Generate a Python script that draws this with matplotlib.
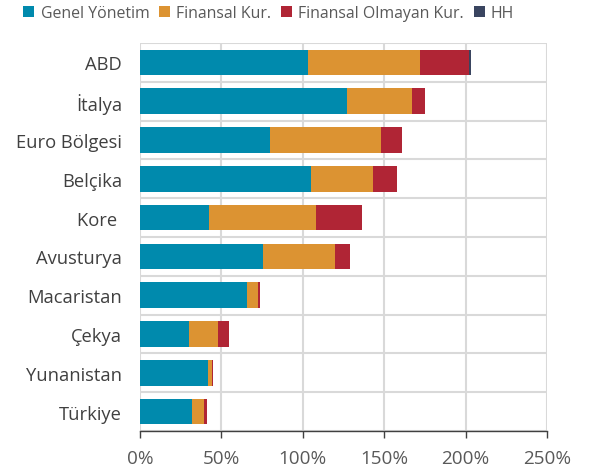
import matplotlib.pyplot as plt
import numpy as np
from matplotlib.ticker import FuncFormatter, MultipleLocator

plt.rcParams["font.family"] = ["Open Sans", "DejaVu Sans"]

countries = ["ABD", "İtalya", "Euro Bölgesi", "Belçika", "Kore ", "Avusturya",
             "Macaristan", "Çekya", "Yunanistan", "Türkiye"]
genel = [103.4, 127.0, 80.0, 105.0, 42.6, 75.8, 65.9, 30.1, 41.8, 32.1]
finansal = [68.6, 40.0, 68.0, 38.3, 65.3, 43.8, 6.8, 17.6, 2.6, 7.2]
finansal_olmayan = [30.0, 8.0, 13.0, 14.4, 28.3, 9.6, 1.2, 7.2, 0.6, 2.0]
hh = [1.5, 0, 0, 0, 0, 0, 0, 0, 0, 0]

series = [
    ("Genel Yönetim", genel, "#008aad"),
    ("Finansal Kur.", finansal, "#dc9332"),
    ("Finansal Olmayan Kur.", finansal_olmayan, "#b02535"),
    ("HH", hh, "#3a4560"),
]

fig = plt.figure(figsize=(5.94, 4.77), dpi=100)
ax = fig.add_axes([140 / 594, 45 / 477, 407 / 594, 388 / 477])

y = np.arange(len(countries))
left = np.zeros(len(countries))
for name, vals, color in series:
    ax.barh(y, vals, left=left, height=0.66, color=color, label=name, zorder=3)
    left += np.array(vals)

ax.set_ylim(len(countries) - 0.5, -0.5)
ax.set_yticks(y)
ax.set_yticklabels(countries, fontsize=13.2, color="#404040")
ax.tick_params(axis="y", length=0, pad=13)
ax.set_yticks(np.arange(-0.5, len(countries)), minor=True)
ax.tick_params(axis="y", which="minor", length=0)

ax.set_xlim(0, 250)
ax.xaxis.set_major_locator(MultipleLocator(50))
ax.xaxis.set_major_formatter(FuncFormatter(lambda v, p: f"{v:.0f}%"))
ax.tick_params(axis="x", length=5, width=1, color="#404040", labelsize=13.6,
               labelcolor="#595959", pad=8)

ax.grid(axis="x", which="major", color="#d9d9d9", linewidth=1.5, zorder=0)
ax.grid(axis="y", which="minor", color="#d9d9d9", linewidth=1.5, zorder=0)

for side in ["top", "right", "left"]:
    ax.spines[side].set_visible(False)
ax.spines["bottom"].set_color("#404040")
ax.spines["bottom"].set_linewidth(1)

fig.legend(loc="upper left", bbox_to_anchor=(21 / 594, 0.993), ncol=4, frameon=False,
           fontsize=11.4, handlelength=0.7, handleheight=0.7, handletextpad=0.4,
           columnspacing=0.6, borderpad=0.15, borderaxespad=0, labelcolor="#595959")

fig.savefig("out.png", dpi=100)
